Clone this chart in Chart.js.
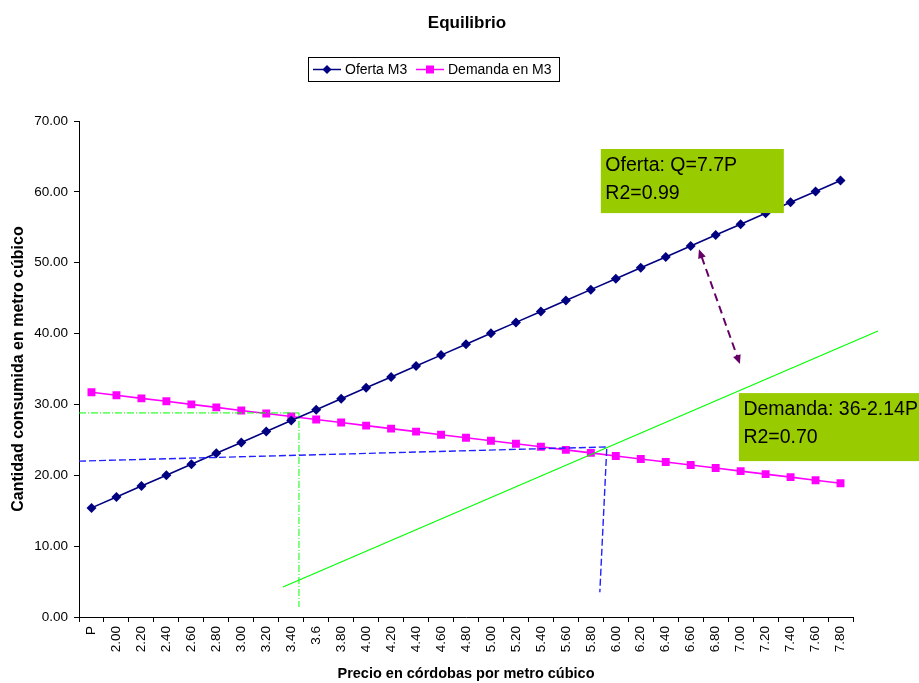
<!DOCTYPE html>
<html>
<head>
<meta charset="utf-8">
<script src="https://cdn.jsdelivr.net/npm/chart.js@4/dist/chart.umd.min.js"></script>
<style>
  html, body { margin: 0; padding: 0; background: #fff; }
  #wrap { width: 919px; height: 683px; position: relative; }
</style>
</head>
<body>
<div id="wrap"><canvas id="c" width="919" height="683"></canvas></div>
<script>
// ---- Data ----
const categories = ["P","2.00","2.20","2.40","2.60","2.80","3.00","3.20","3.40","3.6","3.80","4.00","4.20","4.40","4.60","4.80","5.00","5.20","5.40","5.60","5.80","6.00","6.20","6.40","6.60","6.80","7.00","7.20","7.40","7.60","7.80"];
const oferta = [15.40,16.94,18.48,20.02,21.56,23.10,24.64,26.18,27.72,29.26,30.80,32.34,33.88,35.42,36.96,38.50,40.04,41.58,43.12,44.66,46.20,47.74,49.28,50.82,52.36,53.90,55.44,56.98,58.52,60.06,61.60];
const demanda = [31.72,31.29,30.86,30.44,30.01,29.58,29.15,28.72,28.30,27.87,27.44,27.01,26.58,26.16,25.73,25.30,24.87,24.44,24.02,23.59,23.16,22.73,22.30,21.88,21.45,21.02,20.59,20.16,19.74,19.31,18.88];
const seriesNames = ["Oferta M3", "Demanda en M3"];
const chartTitle = "Equilibrio";
const xTitle = "Precio en córdobas por metro cúbico";
const yTitle = "Cantidad consumida en metro cúbico";

// Annotations in data units: [categoryIndex, value]
const greenGuide = [[-0.5, 28.8], [8.31, 28.8], [8.31, 1.4]];
const blueGuide = [[-0.5, 22.0], [20.64, 24.0], [20.36, 3.5]];
const greenLine = [[7.67, 4.23], [31.5, 40.36]];
const purpleArrow = [[24.33, 51.9], [25.97, 35.7]];
const box1 = { x0: 20.4, x1: 27.73, y0: 66.05, y1: 57.0, lines: ["Oferta: Q=7.7P", "R2=0.99"] };
const box2 = { x0: 25.93, x1: 33.2, y0: 31.6, y1: 22.0, lines: ["Demanda: 36-2.14P", "R2=0.70"] };

const FONT = "'Liberation Sans', Arial, sans-serif";
const NAVY = '#000080', MAGENTA = '#FF00FF';

function path(ctx, x, y, pts) {
  ctx.beginPath();
  pts.forEach((p, i) => {
    const px = x.getPixelForValue(p[0]), py = y.getPixelForValue(p[1]);
    if (i === 0) ctx.moveTo(px, py); else ctx.lineTo(px, py);
  });
  ctx.stroke();
}
function arrowHead(ctx, fx, fy, tx, ty, len, w) {
  const a = Math.atan2(ty - fy, tx - fx);
  ctx.beginPath();
  ctx.moveTo(tx, ty);
  ctx.lineTo(tx - len * Math.cos(a) + w * Math.sin(a), ty - len * Math.sin(a) - w * Math.cos(a));
  ctx.lineTo(tx - len * Math.cos(a) - w * Math.sin(a), ty - len * Math.sin(a) + w * Math.cos(a));
  ctx.closePath();
  ctx.fill();
}

const annotations = {
  id: 'annotations',
  afterDatasetsDraw(chart) {
    const ctx = chart.ctx, x = chart.scales.x, y = chart.scales.y;
    ctx.save();
    // green dash-dot guide
    ctx.strokeStyle = '#00FF00'; ctx.lineWidth = 1; ctx.setLineDash([7, 2, 1, 2]);
    path(ctx, x, y, greenGuide);
    // blue dashed guide
    ctx.strokeStyle = '#2222FF'; ctx.lineWidth = 1.4; ctx.setLineDash([7, 3]);
    path(ctx, x, y, blueGuide);
    // green solid line
    ctx.strokeStyle = '#00FF00'; ctx.lineWidth = 1.2; ctx.setLineDash([]);
    path(ctx, x, y, greenLine);
    // purple double arrow
    const ax0 = x.getPixelForValue(purpleArrow[0][0]), ay0 = y.getPixelForValue(purpleArrow[0][1]);
    const ax1 = x.getPixelForValue(purpleArrow[1][0]), ay1 = y.getPixelForValue(purpleArrow[1][1]);
    const ang = Math.atan2(ay1 - ay0, ax1 - ax0);
    ctx.strokeStyle = '#660066'; ctx.fillStyle = '#660066'; ctx.lineWidth = 2; ctx.setLineDash([8, 5]);
    ctx.beginPath();
    ctx.moveTo(ax0 + 8 * Math.cos(ang), ay0 + 8 * Math.sin(ang));
    ctx.lineTo(ax1 - 8 * Math.cos(ang), ay1 - 8 * Math.sin(ang));
    ctx.stroke();
    ctx.setLineDash([]);
    arrowHead(ctx, ax1, ay1, ax0, ay0, 9, 4);
    arrowHead(ctx, ax0, ay0, ax1, ay1, 9, 4);
    // boxes
    [box1, box2].forEach(b => {
      const bx0 = x.getPixelForValue(b.x0), bx1 = x.getPixelForValue(b.x1);
      const by0 = y.getPixelForValue(b.y0), by1 = y.getPixelForValue(b.y1);
      ctx.fillStyle = '#99CC00';
      ctx.fillRect(bx0, by0, bx1 - bx0, by1 - by0);
      ctx.fillStyle = '#000';
      ctx.font = '19.5px ' + FONT;
      ctx.textAlign = 'left'; ctx.textBaseline = 'alphabetic';
      b.lines.forEach((t, i) => ctx.fillText(t, bx0 + 4.5, by0 + 22 + i * 28));
    });
    ctx.restore();
  }
};

function drawMarker(ctx, style, cx, cy, r, color) {
  ctx.fillStyle = color;
  ctx.beginPath();
  if (style === 'rectRot') {
    ctx.moveTo(cx, cy - r); ctx.lineTo(cx + r, cy); ctx.lineTo(cx, cy + r); ctx.lineTo(cx - r, cy);
  } else {
    ctx.rect(cx - r, cy - r, 2 * r, 2 * r);
  }
  ctx.closePath(); ctx.fill();
}

const header = {
  id: 'header',
  afterDraw(chart) {
    const ctx = chart.ctx;
    ctx.save();
    ctx.fillStyle = '#000';
    ctx.font = 'bold 17px ' + FONT;
    ctx.textAlign = 'center'; ctx.textBaseline = 'middle';
    ctx.fillText(chartTitle, 467, 23);
    // legend
    ctx.strokeStyle = '#000'; ctx.lineWidth = 1;
    ctx.strokeRect(308.5, 57.5, 251, 24);
    ctx.font = '14px ' + FONT;
    ctx.textAlign = 'left';
    const items = [
      { name: seriesNames[0], color: NAVY, style: 'rectRot', x: 313, r: 4.5 },
      { name: seriesNames[1], color: MAGENTA, style: 'rect', x: 416, r: 4 }
    ];
    items.forEach(it => {
      ctx.strokeStyle = it.color; ctx.lineWidth = 1.5;
      ctx.beginPath(); ctx.moveTo(it.x, 69.5); ctx.lineTo(it.x + 28, 69.5); ctx.stroke();
      drawMarker(ctx, it.style, it.x + 14, 69.5, it.r, it.color);
      ctx.fillStyle = '#000';
      ctx.fillText(it.name, it.x + 32, 70);
    });
    ctx.restore();
  }
};

new Chart(document.getElementById('c'), {
  type: 'line',
  data: {
    labels: categories,
    datasets: [
      { label: seriesNames[0], data: oferta, borderColor: NAVY, backgroundColor: NAVY,
        borderWidth: 1.6, pointStyle: 'rectRot', pointRadius: 5, pointBorderWidth: 0, pointHoverRadius: 5, tension: 0 },
      { label: seriesNames[1], data: demanda, borderColor: MAGENTA, backgroundColor: MAGENTA,
        borderWidth: 1.6, pointStyle: 'rect', pointRadius: 5.6, pointBorderWidth: 0, pointHoverRadius: 5.6, tension: 0 }
    ]
  },
  options: {
    responsive: false,
    animation: false,
    events: [],
    layout: { padding: { top: 121, right: 66, left: 0, bottom: 0 } },
    plugins: { legend: { display: false }, title: { display: false }, tooltip: { enabled: false } },
    scales: {
      x: {
        type: 'category',
        offset: true,
        grid: { display: true, offset: true, drawOnChartArea: false, drawTicks: true, tickLength: 5, color: '#000', lineWidth: 1 },
        border: { display: true, color: '#000', width: 1 },
        ticks: { color: '#000', font: { family: FONT, size: 13.5 }, minRotation: 90, maxRotation: 90, autoSkip: false, padding: 4 },
        title: { display: true, text: xTitle, color: '#000', font: { family: FONT, size: 14.5, weight: 'bold' }, padding: { top: 0, bottom: 0 } },
        afterFit(scale) { scale.height = 66; }
      },
      y: {
        min: 0, max: 70,
        ticks: { stepSize: 10, color: '#000', font: { family: FONT, size: 13.5 }, padding: 6, callback: v => Number(v).toFixed(2) },
        grid: { display: true, drawOnChartArea: false, drawTicks: true, tickLength: 5, color: '#000', lineWidth: 1 },
        border: { display: true, color: '#000', width: 1 },
        title: { display: true, text: yTitle, color: '#000', font: { family: FONT, size: 16, weight: 'bold' }, padding: { top: 9, bottom: 0 } },
        afterFit(scale) { scale.width = 79; }
      }
    }
  },
  plugins: [annotations, header]
});
</script>
</body>
</html>
